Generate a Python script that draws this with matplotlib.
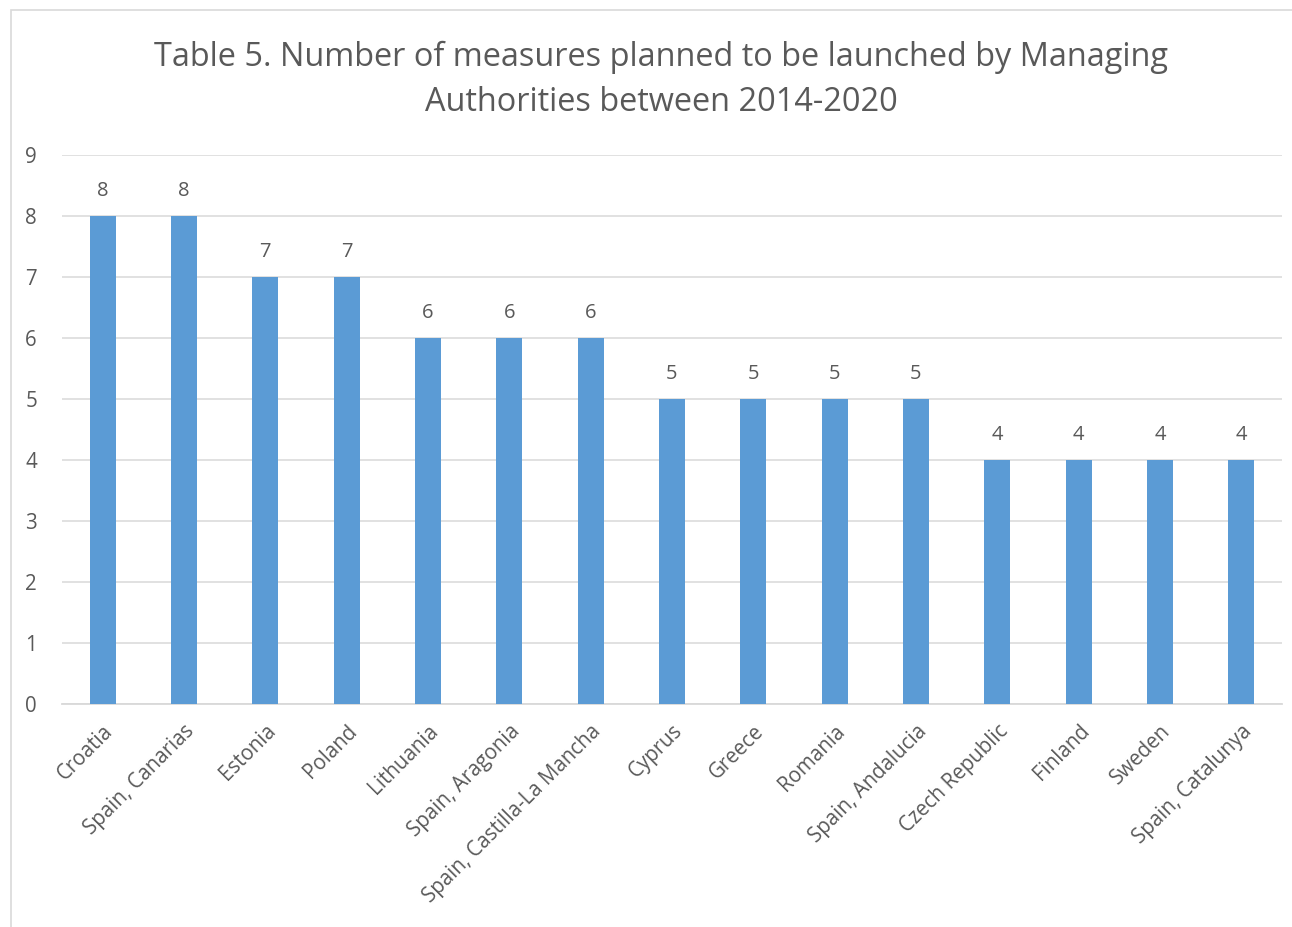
import matplotlib.pyplot as plt
from matplotlib.patches import Rectangle

regions = ['Croatia', 'Spain, Canarias', 'Estonia', 'Poland', 'Lithuania',
           'Spain, Aragonia', 'Spain, Castilla-La Mancha', 'Cyprus', 'Greece',
           'Romania', 'Spain, Andalucia', 'Czech Republic', 'Finland', 'Sweden',
           'Spain, Catalunya']
measures = [8, 8, 7, 7, 6, 6, 6, 5, 5, 5, 5, 4, 4, 4, 4]
y_ticks = list(range(0, 10))

txt = '#595959'
grid = '#D9D9D9'
blue = '#5B9BD5'

plt.rcParams['font.family'] = ['Open Sans', 'DejaVu Sans']

fig = plt.figure(figsize=(12.92, 9.27), dpi=100)
ax = fig.add_axes([62 / 1292, 223 / 927, 1220 / 1292, 549 / 927])

# chart area outline
fig.patches.append(Rectangle((11 / 1292, -0.1), 1.2, (927 - 10) / 927 + 0.1,
                             transform=fig.transFigure, fill=False,
                             edgecolor=grid, linewidth=1.2))

x = list(range(len(regions)))
bars = ax.bar(x, measures, width=0.32, color=blue, zorder=3)
for xi, v in zip(x, measures):
    ax.annotate(str(v), (xi, v), xytext=(0, 11), textcoords='offset points',
                ha='center', va='bottom', fontsize=14.5, color=txt)

ax.set_xlim(-0.5, len(regions) - 0.5)
ax.set_ylim(0, 9)
ax.set_yticks(y_ticks)
ax.yaxis.grid(True, color=grid, linewidth=1.1, zorder=0)
ax.set_axisbelow(True)
for s in ['top', 'right', 'left']:
    ax.spines[s].set_visible(False)
ax.spines['bottom'].set_color(grid)
ax.spines['bottom'].set_linewidth(1.3)
ax.tick_params(axis='both', length=0, colors=txt, labelsize=14.8)
ax.tick_params(axis='y', pad=18)
ax.set_xticks(x)
ax.set_xticklabels(regions, rotation=45, ha='right', rotation_mode='anchor')
ax.tick_params(axis='x', pad=12)

fig.text(661 / 1292, 1 - 80 / 927,
         'Table 5. Number of measures planned to be launched by Managing\nAuthorities between 2014-2020',
         ha='center', va='center', fontsize=23.4, color=txt, linespacing=1.5)

fig.savefig('out.png', dpi=100)
